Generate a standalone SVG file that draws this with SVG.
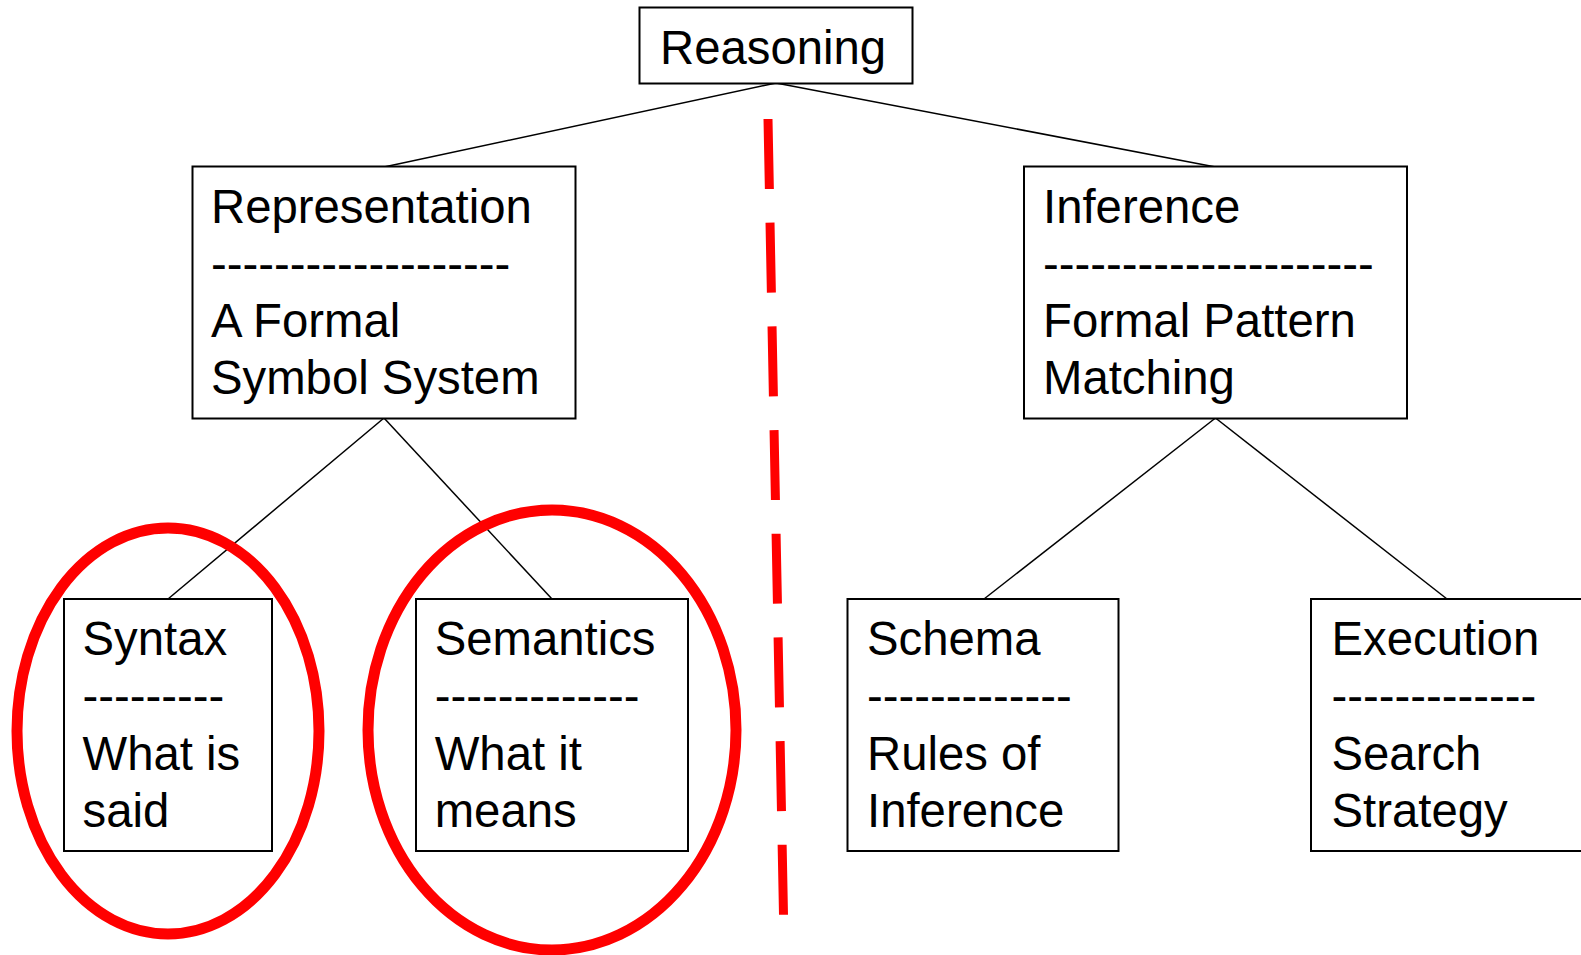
<svg xmlns="http://www.w3.org/2000/svg" width="1581" height="955" viewBox="0 0 1581 955">
<style>
.box{fill:#fff;stroke:#000;stroke-width:2}
.t{font-family:"Liberation Sans",Arial,sans-serif;font-size:47.3px;fill:#000}
.conn{stroke:#000;stroke-width:1.5;fill:none}
.ring{fill:none;stroke:#ff0000;stroke-width:11}
</style>
<rect width="1581" height="955" fill="#fff"/>
<g id="connectors">
<line class="conn" x1="776" y1="83" x2="384" y2="167"/>
<line class="conn" x1="776" y1="83" x2="1215.5" y2="167"/>
<line class="conn" x1="384" y1="418" x2="168" y2="599"/>
<line class="conn" x1="384" y1="418" x2="552" y2="599"/>
<line class="conn" x1="1215.5" y1="418" x2="984" y2="599"/>
<line class="conn" x1="1215.5" y1="418" x2="1447" y2="599"/>
</g>
<g id="reasoning">
<rect class="box" x="639.5" y="7.5" width="273" height="76"/>
<text class="t" x="660" y="64">Reasoning</text>
</g>
<g id="representation">
<rect class="box" x="192.5" y="166.5" width="383" height="252"/>
<text class="t" x="211" y="223.3">Representation</text>
<text class="t" x="211" y="280.3">-------------------</text>
<text class="t" x="211" y="337.3">A Formal</text>
<text class="t" x="211" y="394.3">Symbol System</text>
</g>
<g id="inference">
<rect class="box" x="1024" y="166.5" width="383" height="252"/>
<text class="t" x="1043" y="223.3">Inference</text>
<text class="t" x="1043" y="280.3">---------------------</text>
<text class="t" x="1043" y="337.3">Formal Pattern</text>
<text class="t" x="1043" y="394.3">Matching</text>
</g>
<g id="syntax">
<rect class="box" x="64" y="599" width="208" height="252"/>
<text class="t" x="82.5" y="655">Syntax</text>
<text class="t" x="82.5" y="712.3">---------</text>
<text class="t" x="82.5" y="769.6">What is</text>
<text class="t" x="82.5" y="826.9">said</text>
</g>
<g id="semantics">
<rect class="box" x="416" y="599" width="272" height="252"/>
<text class="t" x="434.7" y="655">Semantics</text>
<text class="t" x="434.7" y="712.3">-------------</text>
<text class="t" x="434.7" y="769.6">What it</text>
<text class="t" x="434.7" y="826.9">means</text>
</g>
<g id="schema">
<rect class="box" x="847.5" y="599" width="271" height="252"/>
<text class="t" x="867" y="655">Schema</text>
<text class="t" x="867" y="712.3">-------------</text>
<text class="t" x="867" y="769.6">Rules of</text>
<text class="t" x="867" y="826.9">Inference</text>
</g>
<g id="execution">
<rect class="box" x="1311" y="599" width="272" height="252"/>
<text class="t" x="1331.5" y="655">Execution</text>
<text class="t" x="1331.5" y="712.3">-------------</text>
<text class="t" x="1331.5" y="769.6">Search</text>
<text class="t" x="1331.5" y="826.9">Strategy</text>
</g>
<g id="highlights">
<ellipse class="ring" cx="168" cy="731" rx="151" ry="203"/>
<ellipse class="ring" cx="552" cy="730" rx="184" ry="220"/>
</g>
<g id="divider">
<line x1="768" y1="119" x2="783.5" y2="915" stroke="#ff0000" stroke-width="9" stroke-dasharray="70 33.7"/>
</g>
</svg>
